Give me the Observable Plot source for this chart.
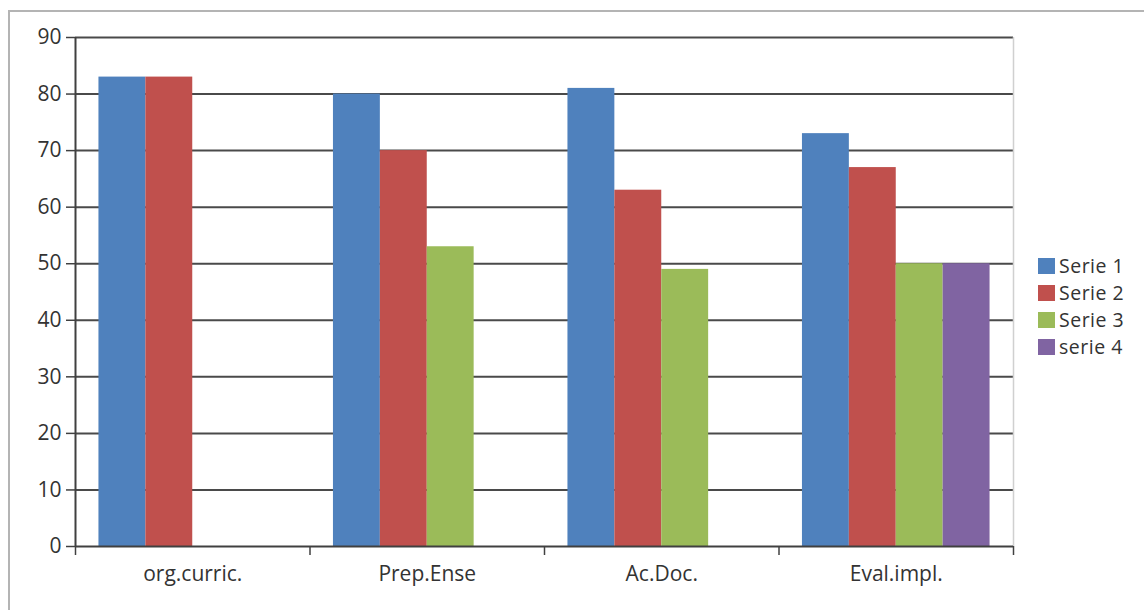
<!DOCTYPE html>
<html>
<head>
<meta charset="utf-8">
<script src="https://cdn.jsdelivr.net/npm/d3@7"></script>
<script src="https://cdn.jsdelivr.net/npm/@observablehq/plot@0.6"></script>
<style>
  html, body { margin: 0; padding: 0; background: #fff; overflow: hidden; }
  #wrap { position: relative; width: 1144px; height: 610px; font-family: "Open Sans", sans-serif; }
  #border { position: absolute; left: 8px; top: 10px; width: 1200px; height: 700px; border: 2px solid #b4b4b4; box-sizing: border-box; }
  #chart { position: absolute; left: 0; top: 0; }
  #chart svg text { font-size: 21px !important; fill: #333; }
  #legend { position: absolute; left: 1038px; top: 252px; font-size: 19.5px; letter-spacing: 0.5px; line-height: 1; color: #333; }
  .item { display: flex; align-items: center; height: 27px; }
  .item span { line-height: 1; display: inline-block; }
  .sw { width: 17px; height: 16px; margin-right: 4px; }
</style>
</head>
<body>
<div id="wrap">
  <div id="border"></div>
  <div id="chart"></div>
  <div id="legend"></div>
</div>
<script>
const categories = ["org.curric.", "Prep.Ense", "Ac.Doc.", "Eval.impl."];
const seriesNames = ["Serie 1", "Serie 2", "Serie 3", "serie 4"];
const serie1 = [83, 80, 81, 73];
const serie2 = [83, 70, 63, 67];
const serie3 = [null, 53, 49, 50];
const serie4 = [null, null, null, 50];
const seriesColors = ["#4F81BD", "#C0504D", "#9BBB59", "#8064A2"];
const yTicks = [0, 10, 20, 30, 40, 50, 60, 70, 80, 90];

const allSeries = [serie1, serie2, serie3, serie4];
const data = [];
categories.forEach((cat, i) => {
  allSeries.forEach((vals, j) => {
    if (vals[i] != null) data.push({category: cat, ci: i, series: seriesNames[j], si: j, value: vals[i]});
  });
});

const nS = seriesNames.length;
const groupPad = 0.1;
const barW = (1 - 2 * groupPad) / nS;

const chart = Plot.plot({
  width: 1144,
  height: 610,
  marginLeft: 75,
  marginTop: 37,
  marginRight: 131,
  marginBottom: 64,
  style: {fontFamily: "'Open Sans', sans-serif", fontSize: "21px", color: "#333", background: "transparent"},
  x: {domain: [0, categories.length], axis: null, label: null},
  y: {domain: [0, 90], axis: null, label: null},
  color: {domain: seriesNames, range: seriesColors},
  marks: [
    Plot.ruleY(yTicks.filter(d => d > 0), {stroke: "#4a4a4a", strokeWidth: 2}),
    Plot.ruleX([categories.length], {stroke: "#d0d0d0", strokeWidth: 1.5}),
    Plot.rectY(data, {
      x1: d => d.ci + groupPad + d.si * barW,
      x2: d => d.ci + groupPad + (d.si + 1) * barW,
      y1: 0,
      y2: "value",
      fill: "series"
    }),
    Plot.ruleX([0], {stroke: "#404040", strokeWidth: 2}),
    Plot.ruleY([0], {stroke: "#404040", strokeWidth: 2}),
    Plot.axisY({ticks: yTicks, tickSize: 9, tickPadding: 5, stroke: "#404040", strokeWidth: 1.5, label: null}),
    Plot.axisX({ticks: d3.range(categories.length + 1), tickSize: 9, tickFormat: () => "", stroke: "#404040", strokeWidth: 1.5, label: null}),
    Plot.axisX({ticks: categories.map((c, i) => i + 0.5), tickSize: 0, tickPadding: 20,
      tickFormat: v => categories[Math.floor(v)], label: null})
  ]
});
document.getElementById("chart").appendChild(chart);

const legend = document.getElementById("legend");
seriesNames.forEach((s, j) => {
  const item = document.createElement("div");
  item.className = "item";
  const sw = document.createElement("div");
  sw.className = "sw";
  sw.style.background = seriesColors[j];
  const t = document.createElement("span");
  t.textContent = s;
  item.appendChild(sw);
  item.appendChild(t);
  legend.appendChild(item);
});
</script>
</body>
</html>
